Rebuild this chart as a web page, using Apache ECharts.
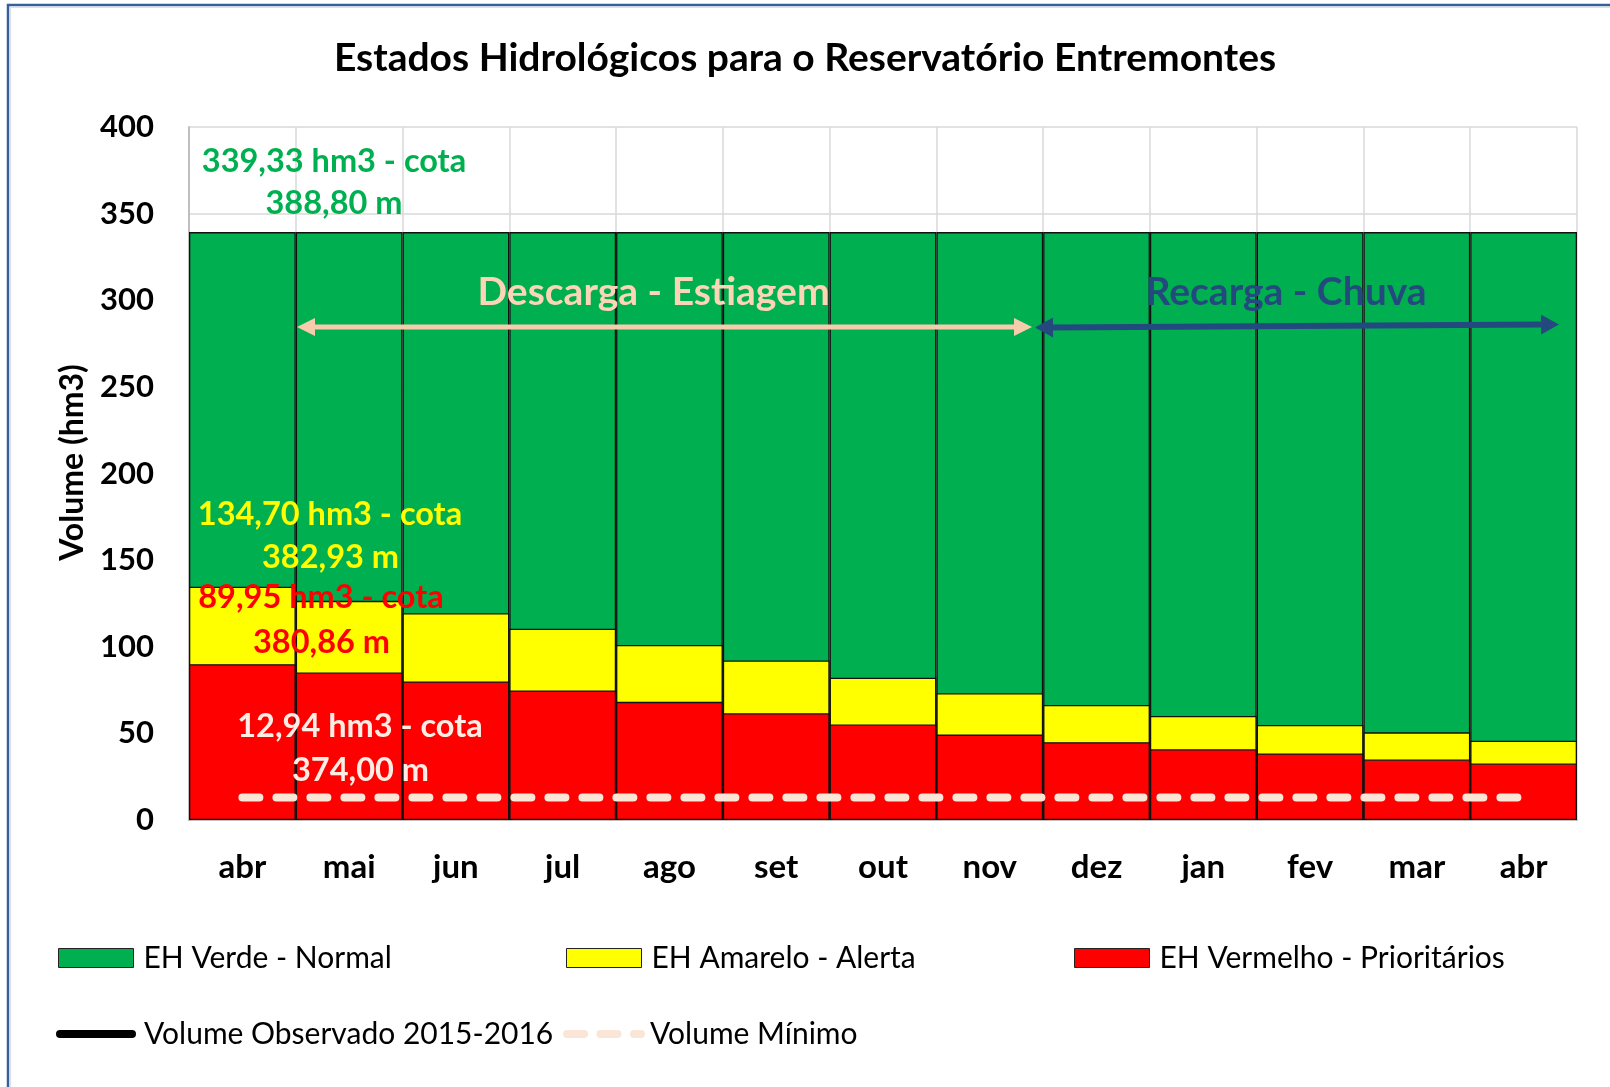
<!DOCTYPE html>
<html><head><meta charset="utf-8">
<script src="https://cdn.jsdelivr.net/npm/echarts@6/dist/echarts.min.js"></script>
<style>html,body{margin:0;padding:0;background:#fff}#c{width:1610px;height:1087px}</style>
</head><body><div id="c"></div>
<script>
// ---- data ----
const categories = ['abr','mai','jun','jul','ago','set','out','nov','dez','jan','fev','mar','abr'];
const nivelVerde = [339.33,339.33,339.33,339.33,339.33,339.33,339.33,339.33,339.33,339.33,339.33,339.33,339.33];
const nivelAmarelo = [134.70,126.5,119.4,110.4,101.0,92.1,82.1,73.2,66.4,60.0,54.8,50.6,45.7];
const nivelVermelho = [89.95,85.1,80.0,74.8,68.2,61.6,55.1,49.3,44.9,40.8,38.4,34.9,32.6];
const volumeMinimo = [12.94,12.94,12.94,12.94,12.94,12.94,12.94,12.94,12.94,12.94,12.94,12.94,12.94];
const volumeObservado = [];
const yMin = 0, yMax = 400, yStep = 50;
const seriesNames = ['EH Verde - Normal','EH Amarelo - Alerta','EH Vermelho - Prioritários','Volume Observado 2015-2016','Volume Mínimo'];

const FONT = 'Lato';
const chart = echarts.init(document.getElementById('c'), null, {renderer:'canvas'});

function arrow(x1,y1,x2,y2,color,w,hl,hw){
  const dx=x2-x1, dy=y2-y1, L=Math.hypot(dx,dy), ux=dx/L, uy=dy/L, px=-uy, py=ux;
  const sx=x1+ux*hl, sy=y1+uy*hl, ex=x2-ux*hl, ey=y2-uy*hl;
  return [
    {type:'line', z:50, shape:{x1:sx,y1:sy,x2:ex,y2:ey}, style:{stroke:color,lineWidth:w}},
    {type:'polygon', z:50, shape:{points:[[x1,y1],[sx+px*hw,sy+py*hw],[sx-px*hw,sy-py*hw]]}, style:{fill:color}},
    {type:'polygon', z:50, shape:{points:[[x2,y2],[ex+px*hw,ey+py*hw],[ex-px*hw,ey-py*hw]]}, style:{fill:color}}
  ];
}
function txt(x,y,t,color,size){
  return {type:'text', z:60, x:x, y:y, style:{text:t, fill:color, font:'bold '+size+'px '+FONT, textAlign:'center', textVerticalAlign:'middle'}};
}

const legendCommon = {orient:'horizontal', padding:0, selectedMode:false, itemWidth:75, itemHeight:19,
  textStyle:{fontFamily:FONT, fontSize:30, color:'#000', padding:[0,0,0,5]}};
const ICON_LINE = 'path://M4,0H76A4,4,0,0,1,76,8H4A4,4,0,0,1,4,0Z';
const ICON_DASH = 'path://M4,0H21A4,4,0,0,1,21,8H4A4,4,0,0,1,4,0ZM37.5,0H54.5A4,4,0,0,1,54.5,8H37.5A4,4,0,0,1,37.5,0ZM71,0H78A4,4,0,0,1,78,8H71A4,4,0,0,1,71,0Z';

const option = {
  backgroundColor:'#fff',
  animation:false,
  title:{text:'Estados Hidrológicos para o Reservatório Entremontes', left:'center', top:34,
    textStyle:{fontFamily:FONT, fontWeight:'bold', fontSize:39, color:'#000'}},
  grid:{left:189, right:33, top:127, bottom:267},
  legend:[
    Object.assign({}, legendCommon, {data:[{name:seriesNames[0], icon:'rect'}], left:58, top:943, itemStyle:{borderColor:'#222', borderWidth:1}}),
    Object.assign({}, legendCommon, {data:[{name:seriesNames[1], icon:'rect'}], left:566, top:943, itemStyle:{borderColor:'#222', borderWidth:1}}),
    Object.assign({}, legendCommon, {data:[{name:seriesNames[2], icon:'rect'}], left:1074, top:943, itemStyle:{borderColor:'#222', borderWidth:1}}),
    Object.assign({}, legendCommon, {data:[{name:seriesNames[3], icon:ICON_LINE}], left:56, top:1019, itemWidth:80, itemHeight:8, itemStyle:{borderWidth:0},
      textStyle:{fontFamily:FONT, fontSize:30, color:'#000', padding:[0,0,0,3]}}),
    Object.assign({}, legendCommon, {data:[{name:seriesNames[4], icon:ICON_DASH}], left:563, top:1019, itemWidth:82, itemHeight:8, itemStyle:{borderWidth:0},
      textStyle:{fontFamily:FONT, fontSize:30, color:'#000', padding:[0,0,0,0]}})
  ],
  xAxis:{type:'category', data:categories, boundaryGap:true,
    axisLine:{show:true, lineStyle:{color:'#BFBFBF', width:2}},
    axisTick:{show:false},
    axisLabel:{fontFamily:FONT, fontWeight:'bold', fontSize:33, color:'#000', margin:31, interval:0},
    splitLine:{show:true, interval:0, lineStyle:{color:'#D9D9D9', width:1.5}}
  },
  yAxis:{type:'value', min:yMin, max:yMax, interval:yStep,
    name:'Volume (hm3)', nameLocation:'middle', nameGap:98,
    nameTextStyle:{fontFamily:FONT, fontWeight:'bold', fontSize:32, color:'#000', padding:[0,0,0,22]},
    axisLine:{show:true, lineStyle:{color:'#BFBFBF', width:2}},
    axisTick:{show:false},
    axisLabel:{fontFamily:FONT, fontWeight:'bold', fontSize:31, color:'#000', margin:35},
    splitLine:{show:true, lineStyle:{color:'#D9D9D9', width:1.5}}
  },
  series:[
    {name:seriesNames[0], type:'bar', data:nivelVerde, barGap:'-100%', barCategoryGap:'0%',
      itemStyle:{color:'#00B050', borderColor:'#111', borderWidth:1.3}},
    {name:seriesNames[1], type:'bar', data:nivelAmarelo, barGap:'-100%', barCategoryGap:'0%',
      itemStyle:{color:'#FFFF00', borderColor:'#111', borderWidth:1.3}},
    {name:seriesNames[2], type:'bar', data:nivelVermelho, barGap:'-100%', barCategoryGap:'0%',
      itemStyle:{color:'#FF0000', borderColor:'#111', borderWidth:1.3}},
    {name:seriesNames[3], type:'line', data:volumeObservado, symbol:'none', color:'#000',
      lineStyle:{color:'#000', width:8, cap:'round'}},
    {name:seriesNames[4], type:'line', data:volumeMinimo, symbol:'none', z:10, color:'#FBE5D6',
      lineStyle:{color:'#FBE5D6', width:8, type:[17,17], cap:'round'}}
  ],
  graphic:[].concat(
    [{type:'rect', z:100, silent:true, shape:{x:8,y:5,width:1800,height:1300}, style:{fill:null, stroke:'#375F9B', lineWidth:2.5}},
     {type:'rect', z:100, silent:true, shape:{x:10.5,y:7.5,width:1800,height:1300}, style:{fill:null, stroke:'#DCE1E8', lineWidth:1.2}}],
    arrow(297,327,1032,327,'#F8CBAD',5,18,9),
    arrow(1035,327.5,1559,324.5,'#23497F',6,18,10),
    [
      txt(653.5,292,'Descarga - Estiagem','#FBD5B5',39),
      txt(1286,292,'Recarga - Chuva','#23497F',39),
      txt(334,161.5,'339,33 hm3 - cota','#00B050',32.5),
      txt(334,204,'388,80 m','#00B050',32.5),
      txt(330,515,'134,70 hm3 - cota','#FFFF00',32.5),
      txt(330.5,558,'382,93 m','#FFFF00',32.5),
      txt(321,598,'89,95 hm3 - cota','#FF0000',32.5),
      txt(321.5,642.7,'380,86 m','#FF0000',32.5),
      txt(360,726.7,'12,94 hm3 - cota','#FDEDE4',32.5),
      txt(360.5,770.7,'374,00 m','#FDEDE4',32.5)
    ]
  )
};
chart.setOption(option);
</script></body></html>
